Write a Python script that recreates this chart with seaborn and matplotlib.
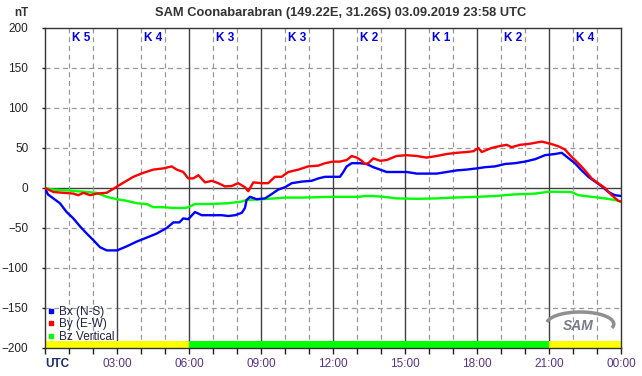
import matplotlib
matplotlib.use("Agg")
import matplotlib.pyplot as plt
import seaborn as sns
import pandas as pd
from matplotlib.lines import Line2D
from matplotlib.patches import Arc

sns.set_style("white")
plt.rcParams['font.family'] = ['Liberation Sans', 'DejaVu Sans']

TITLE = "SAM Coonabarabran (149.22E, 31.26S) 03.09.2019 23:58 UTC"

# --- data (hours UTC, nT) ---
bx_t = [0, 0.12, 0.62, 0.9, 1.18, 1.46, 1.74, 2.01, 2.29, 2.57, 3.0, 3.4, 3.82, 4.24, 4.65, 5.07,
        5.35, 5.6, 5.76, 5.97, 6.25, 6.53, 6.95, 7.36, 7.64, 7.92, 8.2, 8.33, 8.4, 8.54, 8.82, 9.17,
        9.45, 9.72, 10.0, 10.28, 10.7, 11.11, 11.39, 11.67, 12.0, 12.29, 12.43, 12.57, 12.78, 13.12,
        13.4, 13.68, 13.96, 14.24, 14.65, 15.07, 15.49, 15.9, 16.32, 16.74, 17.15, 17.57, 17.99,
        18.33, 18.75, 19.17, 19.58, 20.0, 20.42, 20.83, 21.25, 21.53, 21.74, 22.08, 22.36, 22.64,
        22.92, 23.2, 23.47, 23.75, 24.0]
bx_v = [0, -8, -19, -30, -38, -48, -57, -65, -74, -78, -78, -73, -67, -62, -57, -50,
        -43, -43, -38, -39, -30, -34, -34, -34, -35, -34, -31, -25, -15, -11, -14, -13,
        -7.5, -2, 1, 6, 8, 9, 12, 14, 14, 14, 20, 27, 31, 31,
        30, 26, 23, 20, 20, 20, 18, 18, 18, 20, 22, 23, 24.5,
        26, 27, 30, 31, 33, 36, 41, 42.5, 44, 39, 31, 22, 14,
        8, 2, -5, -9, -10]

by_t = [0, 0.35, 0.76, 1.18, 1.39, 1.6, 1.88, 2.15, 2.57, 2.85, 3.12, 3.4, 3.68, 4.1, 4.51, 4.93,
        5.28, 5.49, 5.76, 5.97, 6.18, 6.39, 6.67, 6.95, 7.22, 7.5, 7.78, 8.05, 8.33, 8.47, 8.68,
        9.03, 9.3, 9.58, 9.86, 10.14, 10.56, 10.97, 11.39, 11.67, 12.0, 12.29, 12.57, 12.78, 12.99,
        13.2, 13.33, 13.47, 13.68, 13.96, 14.24, 14.65, 15.07, 15.49, 15.9, 16.32, 16.74, 17.15,
        17.57, 17.85, 18.06, 18.2, 18.6, 18.96, 19.24, 19.44, 19.8, 20.14, 20.7, 21.1, 21.4, 21.67,
        21.94, 22.22, 22.5, 22.78, 23.05, 23.33, 23.61, 23.89, 24.0]
by_v = [0, -5, -6, -7, -9, -6, -9, -7, -6, -1, 4, 9, 14, 19, 23, 24.5,
        27, 23, 20, 12, 12, 16, 7, 9, 6, 2, 2.5, 6, 1, -4, 7,
        6, 6, 14, 14, 20, 23, 27, 28, 31, 33, 33, 35, 40, 38,
        34, 30, 31, 37, 34, 35, 40, 41, 40, 38, 40, 42.5, 44,
        45, 46, 50, 45, 50, 52.5, 54, 51, 54, 55, 58, 55, 52, 48,
        39, 31, 22, 12, 6, 0, -9, -16, -17]

bz_t = [0, 0.35, 0.9, 1.32, 1.74, 2.15, 2.57, 3.0, 3.4, 3.82, 4.24, 4.51, 4.93, 5.35, 5.83,
        5.97, 6.25, 6.95, 7.64, 8.2, 8.4, 9.03, 9.58, 10.0, 10.7, 12.0, 13.1, 13.3, 13.68, 14.1,
        14.65, 15.49, 16.32, 17.0, 18.06, 18.75, 19.58, 20.42, 21.0, 21.94, 22.22, 22.78, 23.33,
        23.75, 24.0]
bz_v = [0, -2, -3, -4, -5, -6, -11, -14, -16, -19, -20, -24, -24, -25, -25,
        -24, -20, -20, -19, -17, -15, -14, -13, -12, -12, -11, -11, -10, -10, -11,
        -13, -13.5, -13, -12, -11, -10, -8, -7, -4.6, -5, -9, -11, -13,
        -15, -17]

k_index = [5, 4, 3, 3, 2, 1, 2, 4]
bar_start = [0, 6, 21]
bar_end = [6, 21, 24]
bar_color = ['#ffff00', '#00ff00', '#ffff00']

xtick_pos = [0, 3, 6, 9, 12, 15, 18, 21, 24]
xtick_lab = ['UTC', '03:00', '06:00', '09:00', '12:00', '15:00', '18:00', '21:00', '00:00']
ytick_pos = [-200, -150, -100, -50, 0, 50, 100, 150, 200]

bx = pd.DataFrame({'t': bx_t, 'v': bx_v})
by = pd.DataFrame({'t': by_t, 'v': by_v})
bz = pd.DataFrame({'t': bz_t, 'v': bz_v})

fig = plt.figure(figsize=(6.42, 3.76), dpi=100)
ax = fig.add_axes([45/642, 28/376, 576/642, 320/376])

ax.set_xlim(0, 24)
ax.set_ylim(-200, 200)

# grid
for y in ytick_pos:
    if y == 0:
        ax.axhline(0, color='#404040', lw=1.0, zorder=1)
    elif y not in (-200, 200):
        ax.axhline(y, color='#999999', lw=0.9, ls=(0, (4, 3)), zorder=1)
for h in range(1, 24):
    if h % 3 == 0:
        ax.axvline(h, color='#404040', lw=1.0, zorder=1)
    else:
        ax.axvline(h, color='#999999', lw=0.9, ls=(0, (4, 3)), zorder=1)

# status bar
for s, e, c in zip(bar_start, bar_end, bar_color):
    ax.fill_between([s, e], -200, -191, color=c, lw=0, zorder=2)

sns.lineplot(data=bz, x='t', y='v', ax=ax, color='#00ff00', lw=1.7, estimator=None, sort=False, zorder=3)
sns.lineplot(data=bx, x='t', y='v', ax=ax, color='#0000ff', lw=1.7, estimator=None, sort=False, zorder=4)
sns.lineplot(data=by, x='t', y='v', ax=ax, color='#ff0000', lw=1.7, estimator=None, sort=False, zorder=5)

# K labels
for i, k in enumerate(k_index):
    ax.text(1.5 + 3 * i, 188, f"K {k}", ha='center', va='center', color='#0000ee',
            fontsize=8.5, fontweight='bold', zorder=6)

ax.set_xlabel('')
ax.set_ylabel('')
ax.set_xticks(xtick_pos)
ax.set_xticklabels(xtick_lab)
ax.set_xticks(range(0, 25), minor=True)
ax.set_yticks(ytick_pos)
ax.tick_params(axis='x', which='both', direction='out', length=4, width=1, color='#222222',
               pad=3, labelsize=8.5, labelcolor='#553388', bottom=True)
ax.tick_params(axis='y', direction='out', length=2, width=1, color='#222222', pad=10,
               labelsize=8.5, labelcolor='#222222', left=True)
for lbl in ax.get_xticklabels():
    if lbl.get_text() == 'UTC':
        lbl.set_fontweight('bold')
        lbl.set_color('#1a2a6a')
        lbl.set_horizontalalignment('left')

for side in ['left', 'bottom', 'top', 'right']:
    ax.spines[side].set_visible(True)
    ax.spines[side].set_color('#333333')
    ax.spines[side].set_linewidth(1.0)

handles = [Line2D([], [], ls='none', marker='s', markersize=2.5, color=c) for c in ('#0000ff', '#ff0000', '#00ff00')]
leg = ax.legend(handles, ['Bx (N-S)', 'By (E-W)', 'Bz Vertical'], loc='lower left',
                bbox_to_anchor=(0.0, 0.008), frameon=False, fontsize=8.5, handlelength=0.6,
                handletextpad=0.4, labelspacing=0.05, borderpad=0.2, borderaxespad=0.0)
for t in leg.get_texts():
    t.set_color('#222244')

fig.text(341/642, 1 - 13/376, TITLE, ha='center', va='center', fontsize=9.3, fontweight='bold', color='#333333')
fig.text(21/642, 1 - 13/376, 'nT', ha='center', va='center', fontsize=8.5, fontweight='bold', color='#333333')

# SAM logo stand-in
ax.text(22.2, -172, 'SAM', ha='center', va='center', fontsize=10, fontstyle='italic',
        fontweight='bold', color='#7a7a8a', zorder=6)
ax.add_patch(Arc((22.3, -170), 2.8, 30, theta1=-75, theta2=120, lw=2.5, color='#909090', zorder=5))

fig.savefig('out.png', dpi=100, facecolor='white')
